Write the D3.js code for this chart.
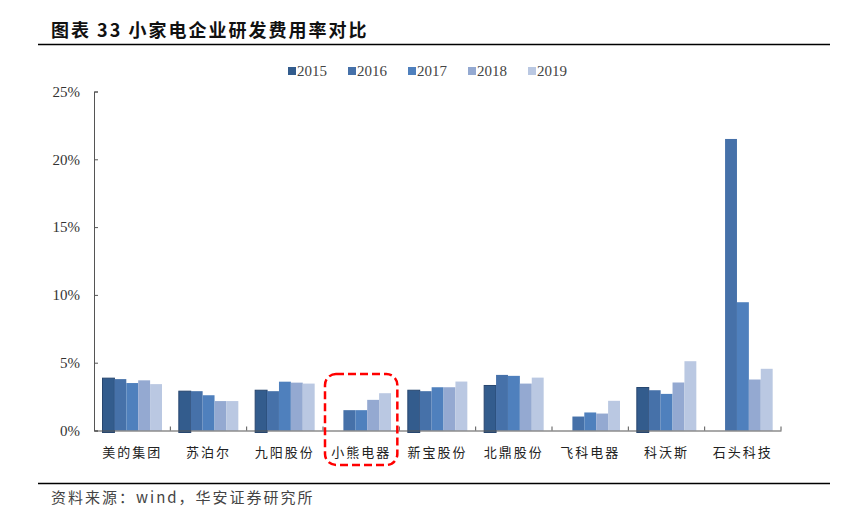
<!DOCTYPE html>
<meta charset="utf-8">
<style>
  body { margin: 0; background: #fff; }
</style>
<script src="https://d3js.org/d3.v7.min.js"></script>
<div id="chart"></div>
<script>

// companies on the x axis
var companies = ["美的集团", "苏泊尔", "九阳股份", "小熊电器", "新宝股份", "北鼎股份", "飞科电器", "科沃斯", "石头科技"];
var years = ["2015", "2016", "2017", "2018", "2019"];

// R&D expense ratio (%) per year, one value per company (null = no data)
var r2015 = [3.86, 2.90, 2.97, null, 2.97, 3.32, null, 3.17, null];
var r2016 = [3.79, 2.90, 2.90, 1.50, 2.90, 4.10, 1.03, 2.97, 21.5];
var r2017 = [3.50, 2.60, 3.60, 1.50, 3.19, 4.03, 1.33, 2.70, 9.46];
var r2018 = [3.70, 2.17, 3.53, 2.26, 3.19, 3.46, 1.25, 3.54, 3.76];
var r2019 = [3.42, 2.17, 3.46, 2.75, 3.61, 3.90, 2.19, 5.11, 4.55];

var yTicks = [0, 5, 10, 15, 20, 25];
var colors = ["#335c8d", "#4671a9", "#4f80bd", "#94a9d1", "#bac8e2"];

var series = [r2015, r2016, r2017, r2018, r2019];
var data = companies.map(function(c, i) {
  return { name: c, values: years.map(function(y, j) { return { year: y, value: series[j][i] }; }) };
});

var W = 844, H = 525;
var svg = d3.select("#chart").append("svg")
  .attr("width", W).attr("height", H);

var cjk = "'Noto Sans CJK SC', sans-serif";
var serif = "'Liberation Serif', 'Times New Roman', serif";

// title + rule
svg.append("text")
  .attr("x", 51).attr("y", 37)
  .style("font-family", cjk).style("font-weight", "bold").style("font-size", "18px")
  .style("letter-spacing", "2px").style("white-space", "pre")
  .attr("fill", "#111")
  .text("图表 33 小家电企业研发费用率对比");
svg.append("line").attr("x1", 38).attr("x2", 830).attr("y1", 44.5).attr("y2", 44.5)
  .attr("stroke", "#000").attr("stroke-width", 1.3);

// footer
svg.append("line").attr("x1", 38).attr("x2", 830).attr("y1", 483.5).attr("y2", 483.5)
  .attr("stroke", "#000").attr("stroke-width", 1.3);
svg.append("text")
  .attr("x", 51).attr("y", 503)
  .style("font-family", cjk).style("font-size", "15px").style("letter-spacing", "2px")
  .attr("fill", "#444")
  .text("资料来源：wind，华安证券研究所");

// scales
var x = d3.scaleBand().domain(companies).range([94, 781]).padding(0);
var xInner = d3.scaleBand().domain(years).range([8.5, 68]).padding(0);
var y = d3.scaleLinear().domain([0, 25]).range([430.5, 91.5]);

// y axis
var yAxis = svg.append("g")
  .attr("transform", "translate(94,0)")
  .call(d3.axisRight(y).tickValues(yTicks).tickSize(4).tickFormat(function(d) { return d + "%"; }));
yAxis.select(".domain").attr("stroke", "#555");
yAxis.selectAll(".tick line").attr("stroke", "#555");
yAxis.selectAll(".tick text")
  .attr("x", -14).attr("text-anchor", "end")
  .style("font-family", serif).style("font-size", "15px").attr("fill", "#333");

// bars
var groups = svg.selectAll(".grp")
  .data(data)
  .enter().append("g")
  .attr("transform", function(d) { return "translate(" + x(d.name) + ",0)"; });

groups.selectAll("rect")
  .data(function(d) { return d.values.filter(function(v) { return v.value != null; }); })
  .enter().append("rect")
  .attr("x", function(d) { return xInner(d.year); })
  .attr("y", function(d) { return y(d.value); })
  .attr("width", xInner.bandwidth())
  .attr("height", function(d) { return y(0) - y(d.value) + (d.year === "2015" ? 2 : 0); })
  .attr("fill", function(d) { return colors[years.indexOf(d.year)]; })
  .attr("stroke", function(d) { return d.year === "2015" ? "#27466f" : "none"; })
  .attr("stroke-width", 1);

// x axis
var xAxis = svg.append("g")
  .attr("transform", "translate(0,430.5)")
  .call(d3.axisBottom(x).tickSize(0).tickFormat(""));
xAxis.select(".domain").attr("stroke", "#555").attr("stroke-width", 1.2);
// small boundary ticks pointing up
svg.selectAll(".xtick")
  .data(companies.slice(1).concat(["end"]))
  .enter().append("line")
  .attr("x1", function(d, i) { return 94 + x.bandwidth() * (i + 1); })
  .attr("x2", function(d, i) { return 94 + x.bandwidth() * (i + 1); })
  .attr("y1", 426.5).attr("y2", 430.5)
  .attr("stroke", "#555");

// category labels
svg.selectAll(".cat")
  .data(companies)
  .enter().append("text")
  .attr("x", function(d) { return x(d) + x.bandwidth() / 2; })
  .attr("y", 457)
  .attr("text-anchor", "middle")
  .style("font-family", cjk).style("font-size", "13px").style("letter-spacing", "2px")
  .attr("fill", "#222")
  .text(function(d) { return d; });

// highlight around 小熊电器
svg.append("rect")
  .attr("x", x("小熊电器") + 2).attr("y", 374)
  .attr("width", x.bandwidth() - 4).attr("height", 91)
  .attr("rx", 11).attr("ry", 11)
  .attr("fill", "none").attr("stroke", "#ff0000")
  .attr("stroke-width", 2.5).attr("stroke-dasharray", "8,4");

// legend
var legend = svg.selectAll(".leg")
  .data(years)
  .enter().append("g")
  .attr("transform", function(d, i) { return "translate(" + (288 + i * 60) + ",71)"; });
legend.append("rect")
  .attr("x", 0).attr("y", -4).attr("width", 8).attr("height", 8)
  .attr("fill", function(d, i) { return colors[i]; });
legend.append("text")
  .attr("x", 9).attr("y", 5)
  .style("font-family", serif).style("font-size", "15px")
  .attr("fill", "#444")
  .text(function(d) { return d; });

</script>
